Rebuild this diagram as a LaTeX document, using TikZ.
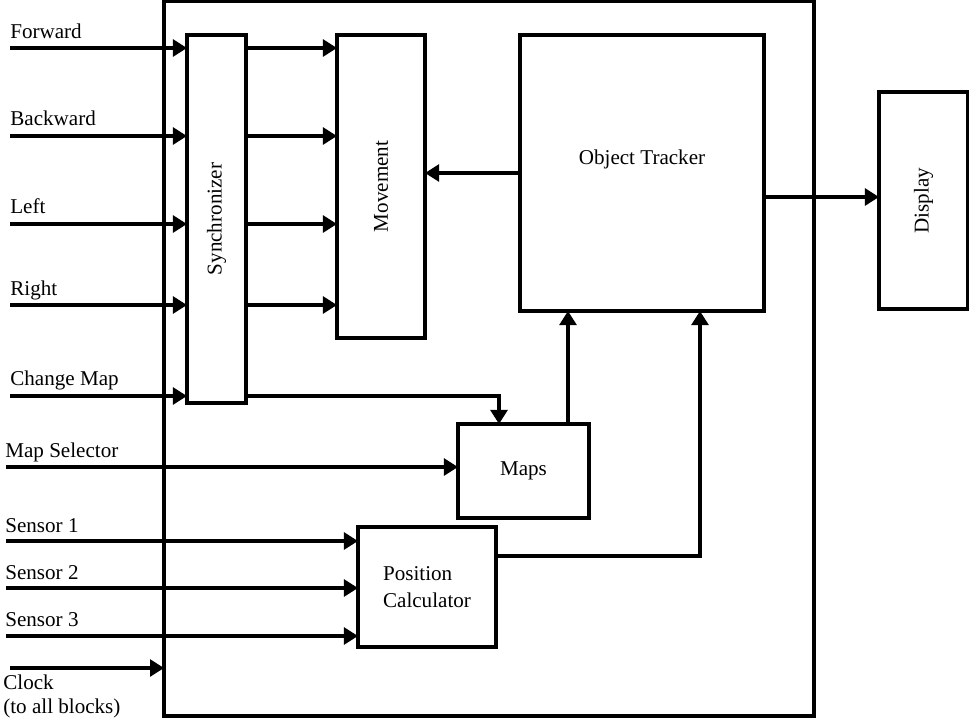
\documentclass[tikz,border=0pt]{standalone}
\usepackage{fontspec}
\setmainfont{Liberation Serif}
\usetikzlibrary{arrows.meta,positioning}

\tikzset{
  block/.style={draw, line width=2pt, inner sep=0pt, outer sep=0pt, align=center},
  link/.style={line width=2pt, -{Triangle[length=8pt,width=9.5pt]}},
  inlabel/.style={anchor=base west, inner sep=0pt},
}

\begin{document}
\begin{tikzpicture}[x=0.02cm, y=-0.02cm, font=\fontsize{12}{14}\selectfont]
  \useasboundingbox (0,0) rectangle (969,721);
  % blocks
  \node[block, minimum width=13cm, minimum height=14.3cm] (sys) at (489,358.5) {};
  \node[block, minimum width=1.18cm, minimum height=7.36cm] (sync) at (216.5,219) {\rotatebox{90}{Synchronizer}};
  \node[block, minimum width=1.76cm, minimum height=6.06cm] (move) at (381,186.5) {\rotatebox{90}{Movement}};
  \node[block, minimum width=4.88cm, minimum height=5.52cm] (trk) at (642,173) {};
  \node[inner sep=0pt, below=2.3cm of trk.north] (trkname) {Object Tracker};
  \node[block, minimum width=1.78cm, minimum height=4.34cm] (disp) at (923.5,200.5) {\rotatebox{90}{Display}};
  \node[block, minimum width=2.62cm, minimum height=1.88cm] (maps) at (523.5,471) {Maps};
  \node[block, minimum width=2.76cm, minimum height=2.4cm, align=left] (pc) at (427,587) {Position\\[1pt]Calculator};

  % inputs
  \coordinate (fwd) at (10,48);
  \coordinate (bwd) at (10,136);
  \coordinate (lft) at (10,224);
  \coordinate (rgt) at (10,305);
  \coordinate (chg) at (10,396);
  \coordinate (msel) at (6,467);
  \coordinate (sen1) at (6,541);
  \coordinate (sen2) at (6,588);
  \coordinate (sen3) at (6,636);
  \coordinate (clk) at (10,668);
  \coordinate (trkout) at ([yshift=-0.48cm]trk.east);

  \node[inlabel] (fwdtxt) at (10,38) {Forward};
  \node[inlabel] (bwdtxt) at (10,125) {Backward};
  \node[inlabel] (lfttxt) at (10,213) {Left};
  \node[inlabel] (rgttxt) at (10,295) {Right};
  \node[inlabel] (chgtxt) at (10,385) {Change Map};
  \node[inlabel] (mseltxt) at (5,457) {Map Selector};
  \node[inlabel] (sen1txt) at (5,532) {Sensor 1};
  \node[inlabel] (sen2txt) at (5,579) {Sensor 2};
  \node[inlabel] (sen3txt) at (5,626) {Sensor 3};
  \node[inlabel] (clktxt) at (3,689) {Clock};
  \node[inlabel] (clktxt2) at (3,713) {(to all blocks)};

  \draw[link] (fwd) -- (sync.west |- fwd);
  \draw[link] (bwd) -- (sync.west |- bwd);
  \draw[link] (lft) -- (sync.west |- lft);
  \draw[link] (rgt) -- (sync.west |- rgt);
  \draw[link] (chg) -- (sync.west |- chg);
  \draw[link] (msel) -- (maps.west |- msel);
  \draw[link] (sen1) -- (pc.west |- sen1);
  \draw[link] (sen2) -- (pc.west |- sen2);
  \draw[link] (sen3) -- (pc.west |- sen3);
  \draw[link] (clk) -- (sys.west |- clk);

  % internal connections
  \draw[link] (sync.east |- fwd) -- (move.west |- fwd);
  \draw[link] (sync.east |- bwd) -- (move.west |- bwd);
  \draw[link] (sync.east |- lft) -- (move.west |- lft);
  \draw[link] (sync.east |- rgt) -- (move.west |- rgt);
  \draw[link] (sync.east |- chg) -| ([xshift=-0.49cm]maps.north);
  \draw[link] ([xshift=0.89cm]maps.north) -- ([xshift=0.89cm]maps.north |- trk.south);
  \draw[link] ([yshift=0.62cm]pc.east) -| ([xshift=1.16cm]trk.south);
  \draw[link] (trk.west) -- (move.east |- trk.west);
  \draw[link] (trkout) -- (disp.west |- trkout);
\end{tikzpicture}
\end{document}
